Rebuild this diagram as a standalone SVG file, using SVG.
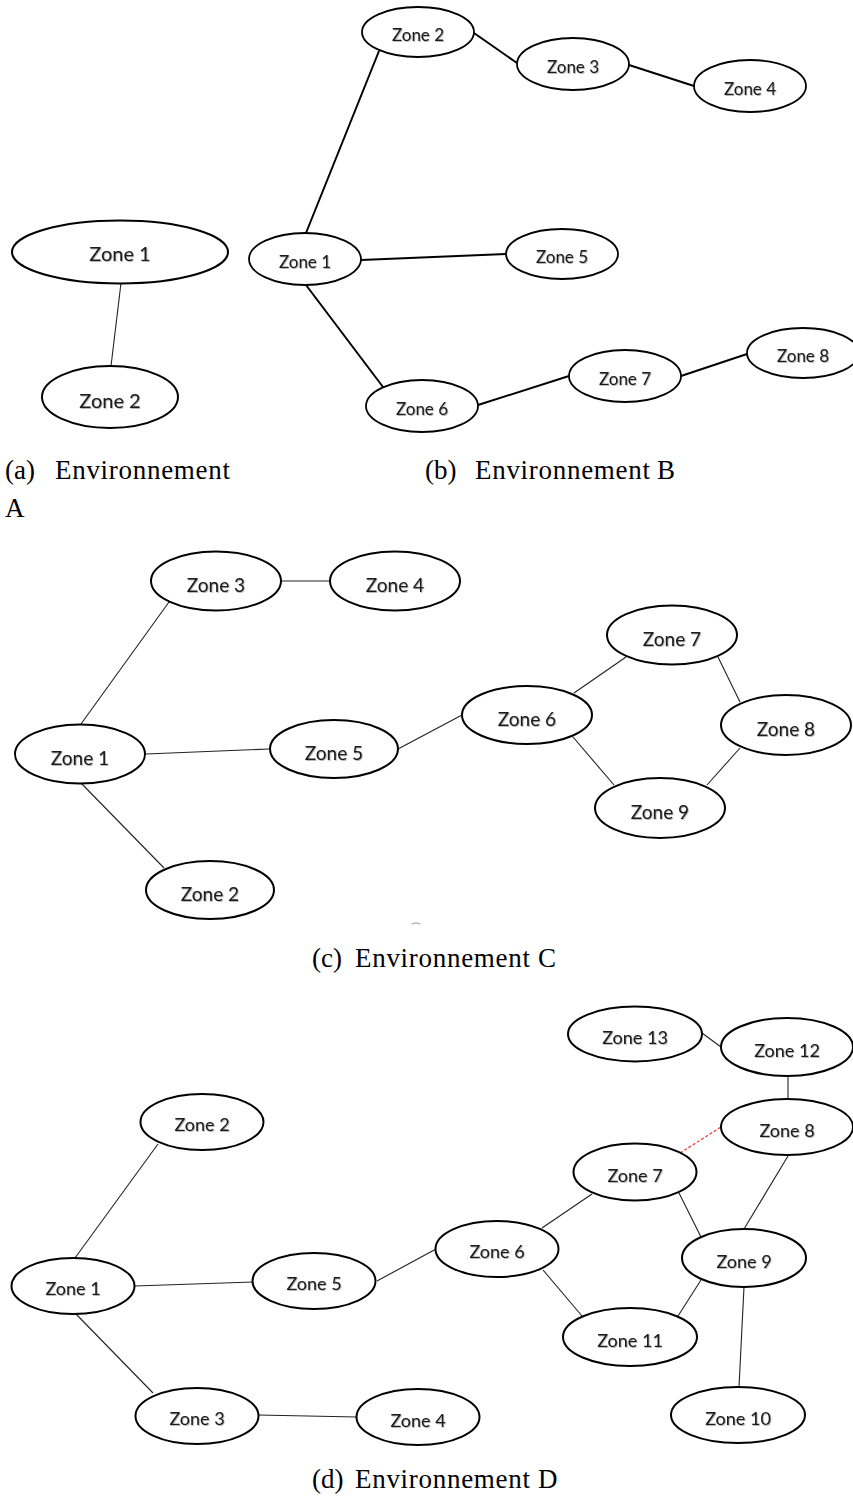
<svg xmlns="http://www.w3.org/2000/svg" width="853" height="1501" viewBox="0 0 853 1501">
  <defs>
    <filter id="soft" x="-20%" y="-40%" width="140%" height="180%">
      <feDropShadow dx="0.8" dy="0.8" stdDeviation="0.7" flood-color="#000" flood-opacity="0.35"/>
    </filter>
  </defs>
  <style>
    .node ellipse { fill: #fff; stroke: #000; stroke-width: 2; }
    .b .node ellipse { stroke-width: 1.8; }
    .node text { font-family: Lato, "Open Sans", sans-serif; fill: #1a1a1a; text-anchor: middle; dominant-baseline: central; filter: url(#soft); }
    .a .node text { font-size: 20px; }
    .b .node text { font-size: 17px; }
    .c .node text { font-size: 19px; }
    .d .node text { font-size: 18px; }
    .edges line { stroke: #222; stroke-width: 1.1; }
    .b .edges line { stroke: #000; stroke-width: 2; }
    .edges line.tentative { stroke: #f03c3c; stroke-width: 1.3; stroke-dasharray: 3 2; }
    .caption { font-family: "Liberation Serif", "DejaVu Serif", serif; font-size: 27px; fill: #000; }
  </style>
  <rect width="853" height="1501" fill="#fff"/>

  <!-- (a) Environment A -->
  <g class="a">
    <g class="edges">
      <line x1="121" y1="283" x2="111" y2="366"/>
    </g>
    <g id="a-zone1" class="node"><ellipse cx="120" cy="252" rx="108" ry="31.5"/><text x="120" y="253">Zone 1</text></g>
    <g id="a-zone2" class="node"><ellipse cx="110" cy="397" rx="68" ry="31"/><text x="110" y="400">Zone 2</text></g>
  </g>

  <!-- (b) Environment B -->
  <g class="b">
    <g class="edges">
      <line x1="306" y1="233" x2="379" y2="51"/>
      <line x1="474" y1="33" x2="517" y2="63"/>
      <line x1="629" y1="65" x2="694" y2="86"/>
      <line x1="361" y1="260" x2="506" y2="254"/>
      <line x1="306" y1="285" x2="383" y2="387"/>
      <line x1="478" y1="405" x2="569" y2="376"/>
      <line x1="681" y1="376" x2="747" y2="354"/>
    </g>
    <g id="b-zone1" class="node"><ellipse cx="305" cy="259" rx="56" ry="26"/><text x="305" y="261">Zone 1</text></g>
    <g id="b-zone2" class="node"><ellipse cx="418" cy="32" rx="56" ry="25"/><text x="418" y="34">Zone 2</text></g>
    <g id="b-zone3" class="node"><ellipse cx="573" cy="64" rx="56" ry="26"/><text x="573" y="66">Zone 3</text></g>
    <g id="b-zone4" class="node"><ellipse cx="750" cy="86" rx="56" ry="26"/><text x="750" y="88">Zone 4</text></g>
    <g id="b-zone5" class="node"><ellipse cx="562" cy="254" rx="56" ry="25"/><text x="562" y="256">Zone 5</text></g>
    <g id="b-zone6" class="node"><ellipse cx="422" cy="406" rx="56" ry="26"/><text x="422" y="408">Zone 6</text></g>
    <g id="b-zone7" class="node"><ellipse cx="625" cy="376" rx="56" ry="26"/><text x="625" y="378">Zone 7</text></g>
    <g id="b-zone8" class="node"><ellipse cx="803" cy="353" rx="56" ry="25"/><text x="803" y="355">Zone 8</text></g>
  </g>

  <text class="caption" x="5" y="479">(a)<tspan x="55" textLength="175">Environnement</tspan></text>
  <text class="caption" x="5" y="517">A</text>
  <text class="caption" x="425" y="479">(b)<tspan x="475" textLength="175">Environnement</tspan><tspan x="657">B</tspan></text>

  <!-- (c) Environment C -->
  <g class="c">
    <g class="edges">
      <line x1="81" y1="724" x2="169" y2="602"/>
      <line x1="281" y1="581" x2="330" y2="581"/>
      <line x1="146" y1="754" x2="269" y2="749"/>
      <line x1="81" y1="783" x2="164" y2="868"/>
      <line x1="398" y1="749" x2="462" y2="715"/>
      <line x1="574" y1="693" x2="626" y2="657"/>
      <line x1="573" y1="737" x2="614" y2="785"/>
      <line x1="718" y1="657" x2="740" y2="702"/>
      <line x1="740" y1="748" x2="707" y2="785"/>
    </g>
    <g id="c-zone1" class="node"><ellipse cx="80" cy="754" rx="65" ry="29.5"/><text x="80" y="757">Zone 1</text></g>
    <g id="c-zone2" class="node"><ellipse cx="210" cy="890" rx="64" ry="29"/><text x="210" y="893">Zone 2</text></g>
    <g id="c-zone3" class="node"><ellipse cx="216" cy="581" rx="65" ry="29.5"/><text x="216" y="584">Zone 3</text></g>
    <g id="c-zone4" class="node"><ellipse cx="395" cy="581" rx="65" ry="29.5"/><text x="395" y="584">Zone 4</text></g>
    <g id="c-zone5" class="node"><ellipse cx="334" cy="749" rx="64" ry="29"/><text x="334" y="752">Zone 5</text></g>
    <g id="c-zone6" class="node"><ellipse cx="527" cy="715" rx="65" ry="29"/><text x="527" y="718">Zone 6</text></g>
    <g id="c-zone7" class="node"><ellipse cx="672" cy="635" rx="65" ry="29.5"/><text x="672" y="638">Zone 7</text></g>
    <g id="c-zone8" class="node"><ellipse cx="786" cy="725" rx="65" ry="30"/><text x="786" y="728">Zone 8</text></g>
    <g id="c-zone9" class="node"><ellipse cx="660" cy="808" rx="65" ry="30"/><text x="660" y="811">Zone 9</text></g>
  </g>
  <!-- stray pen mark under panel c -->
  <path d="M412 924 Q416 922 420 924" fill="none" stroke="#9a9a9a" stroke-width="1.2"/>

  <text class="caption" x="312" y="967">(c)<tspan x="355" textLength="175">Environnement</tspan><tspan x="538">C</tspan></text>

  <!-- (d) Environment D -->
  <g class="d">
    <g class="edges">
      <line x1="75" y1="1258" x2="158" y2="1144"/>
      <line x1="135" y1="1286" x2="253" y2="1282"/>
      <line x1="76" y1="1314" x2="153" y2="1393"/>
      <line x1="258" y1="1415" x2="357" y2="1417"/>
      <line x1="377" y1="1281" x2="436" y2="1249"/>
      <line x1="542" y1="1228" x2="592" y2="1194"/>
      <line x1="543" y1="1270" x2="582" y2="1316"/>
      <line x1="679" y1="1193" x2="701" y2="1237"/>
      <line x1="788" y1="1156" x2="744" y2="1229"/>
      <line x1="701" y1="1280" x2="678" y2="1316"/>
      <line x1="744" y1="1287" x2="739" y2="1387"/>
      <line x1="702" y1="1033" x2="721" y2="1047"/>
      <line x1="788" y1="1076" x2="788" y2="1099"/>
      <line class="tentative" x1="680" y1="1153" x2="721" y2="1127"/>
    </g>
    <g id="d-zone1" class="node"><ellipse cx="73" cy="1286" rx="61.5" ry="28"/><text x="73" y="1288">Zone 1</text></g>
    <g id="d-zone2" class="node"><ellipse cx="202" cy="1122" rx="61.5" ry="28"/><text x="202" y="1124">Zone 2</text></g>
    <g id="d-zone3" class="node"><ellipse cx="197" cy="1416" rx="61.5" ry="28"/><text x="197" y="1418">Zone 3</text></g>
    <g id="d-zone4" class="node"><ellipse cx="418" cy="1417" rx="61.5" ry="28"/><text x="418" y="1420">Zone 4</text></g>
    <g id="d-zone5" class="node"><ellipse cx="314" cy="1281" rx="61.5" ry="28"/><text x="314" y="1283">Zone 5</text></g>
    <g id="d-zone6" class="node"><ellipse cx="497" cy="1249" rx="61.5" ry="28"/><text x="497" y="1251">Zone 6</text></g>
    <g id="d-zone7" class="node"><ellipse cx="635" cy="1172" rx="61.5" ry="28.5"/><text x="635" y="1175">Zone 7</text></g>
    <g id="d-zone8" class="node"><ellipse cx="787" cy="1127" rx="66" ry="28"/><text x="787" y="1130">Zone 8</text></g>
    <g id="d-zone9" class="node"><ellipse cx="744" cy="1258" rx="62" ry="29"/><text x="744" y="1261">Zone 9</text></g>
    <g id="d-zone10" class="node"><ellipse cx="738" cy="1415" rx="67" ry="28"/><text x="738" y="1418">Zone 10</text></g>
    <g id="d-zone11" class="node"><ellipse cx="630" cy="1337" rx="67" ry="29"/><text x="630" y="1340">Zone 11</text></g>
    <g id="d-zone12" class="node"><ellipse cx="787" cy="1047" rx="66" ry="29"/><text x="787" y="1050">Zone 12</text></g>
    <g id="d-zone13" class="node"><ellipse cx="635" cy="1034" rx="67" ry="27.5"/><text x="635" y="1037">Zone 13</text></g>
  </g>

  <text class="caption" x="312" y="1488">(d)<tspan x="355" textLength="175">Environnement</tspan><tspan x="538">D</tspan></text>
</svg>
